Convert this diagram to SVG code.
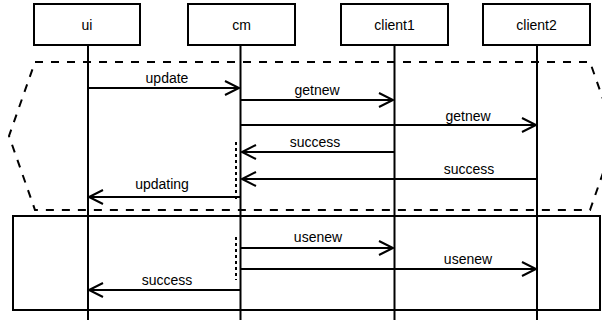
<svg xmlns="http://www.w3.org/2000/svg" width="602" height="320" viewBox="0 0 602 320">
  <style>
    .box { fill: #fff; stroke: #000; stroke-width: 2; }
    .life { stroke: #000; stroke-width: 2; fill: none; }
    .msg { stroke: #000; stroke-width: 2; fill: none; marker-end: url(#open); }
    .dots { stroke: #000; stroke-width: 2; stroke-dasharray: 3 3; fill: none; }
    .alt { stroke: #000; stroke-width: 2; stroke-dasharray: 8 8; fill: none; }
    .frame { stroke: #000; stroke-width: 2; fill: none; }
    text { font-family: "Liberation Sans", Arial, sans-serif; font-size: 14px; fill: #000; text-anchor: middle; }
  </style>
  <defs>
    <marker id="open" markerUnits="userSpaceOnUse" markerWidth="20" markerHeight="20" refX="15" refY="8" orient="auto" overflow="visible">
      <path d="M1,1 L15,8 L1,15" fill="none" stroke="#000" stroke-width="2"/>
    </marker>
  </defs>

  <rect width="602" height="320" fill="#fff"/>

  <!-- fragment frames -->
  <g id="frames">
    <path class="alt" d="M35,62 L590,62 L616,136 L590,210 L35,210 L9,136 Z"/>
    <rect class="frame" x="13" y="216" width="587" height="94"/>
  </g>

  <!-- participants -->
  <g id="ui">
    <rect class="box" x="34" y="4" width="106" height="41"/>
    <line class="life" x1="88" y1="45" x2="88" y2="320"/>
    <text x="87" y="30">ui</text>
  </g>
  <g id="cm">
    <rect class="box" x="188" y="4" width="107" height="41"/>
    <line class="life" x1="240.5" y1="45" x2="240.5" y2="320"/>
    <text x="241.5" y="30">cm</text>
  </g>
  <g id="client1">
    <rect class="box" x="341" y="4" width="107" height="41"/>
    <line class="life" x1="394.5" y1="45" x2="394.5" y2="320"/>
    <text x="394.5" y="30">client1</text>
  </g>
  <g id="client2">
    <rect class="box" x="483" y="4" width="107" height="41"/>
    <line class="life" x1="537" y1="45" x2="537" y2="320"/>
    <text x="536.5" y="30">client2</text>
  </g>

  <!-- messages -->
  <g id="connectors">
    <line class="msg" x1="88" y1="88" x2="239" y2="88"/>
    <line class="msg" x1="240.5" y1="100" x2="393" y2="100"/>
    <line class="msg" x1="240.5" y1="125" x2="536" y2="125"/>
    <line class="msg" x1="394.5" y1="152" x2="242" y2="152"/>
    <line class="msg" x1="537" y1="179" x2="242" y2="179"/>
    <line class="msg" x1="240.5" y1="197" x2="89" y2="197"/>
    <line class="msg" x1="240.5" y1="248" x2="393" y2="248"/>
    <line class="msg" x1="240.5" y1="269" x2="536" y2="269"/>
    <line class="msg" x1="240.5" y1="290" x2="89" y2="290"/>
    <line class="dots" x1="236" y1="142" x2="236" y2="202"/>
    <line class="dots" x1="236" y1="237" x2="236" y2="280"/>
  </g>

  <!-- message labels -->
  <g id="labels">
    <text x="167" y="83">update</text>
    <text x="317" y="95">getnew</text>
    <text x="468" y="121">getnew</text>
    <text x="315" y="147">success</text>
    <text x="469" y="174">success</text>
    <text x="162" y="189">updating</text>
    <text x="318" y="242">usenew</text>
    <text x="468" y="264">usenew</text>
    <text x="167" y="285">success</text>
  </g>
</svg>
